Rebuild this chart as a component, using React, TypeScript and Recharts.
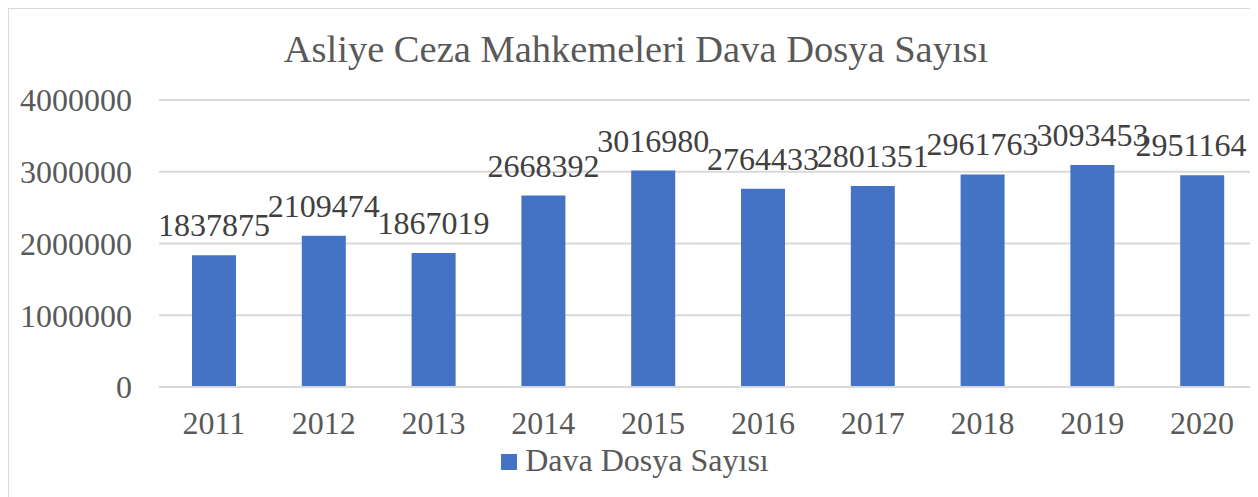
import React from 'react';
import { BarChart, Bar, XAxis, YAxis, CartesianGrid, Legend, LabelList } from 'recharts';

const years = ['2011', '2012', '2013', '2014', '2015', '2016', '2017', '2018', '2019', '2020'];
const caseCounts = [1837875, 2109474, 1867019, 2668392, 3016980, 2764433, 2801351, 2961763, 3093453, 2951164];
const yTicks = [0, 1000000, 2000000, 3000000, 4000000];

const chartData = years.map((year, i) => ({ year, count: caseCounts[i] }));

const serif = '"Liberation Serif", "Times New Roman", serif';
const gray = '#595959';
const barColor = '#4472c4';
const CHART_W = 1248;

// value label above each bar, kept inside the chart frame like Excel does
const ValueLabel = (props: any) => {
  const { x, y, width, value } = props;
  const half = String(value).length * 8;
  let cx = x + width / 2;
  if (cx + half > CHART_W - 10) cx = CHART_W - 10 - half;
  return (
    <text x={cx} y={y - 19} textAnchor="middle" fill="#404040" fontSize={32} fontFamily={serif}>
      {value}
    </text>
  );
};

const LegendBox = (props: any) => {
  const items = props.payload || [];
  return (
    <div style={{ display: 'flex', justifyContent: 'center', alignItems: 'center', height: 35 }}>
      {items.map((it: any) => (
        <div key={it.value} style={{ display: 'flex', alignItems: 'center', marginLeft: 4 }}>
          <span style={{ width: 16, height: 16, background: it.color, marginRight: 8, marginTop: 2 }} />
          <span style={{ color: gray, fontFamily: serif, fontSize: 32, lineHeight: '35px' }}>{it.value}</span>
        </div>
      ))}
    </div>
  );
};

const App: React.FC = () => {
  return (
    <div
      style={{
        position: 'relative',
        width: 1250,
        height: 490,
        border: '1px solid #d9d9d9',
        boxSizing: 'border-box',
        fontFamily: serif,
        background: '#fff',
      }}
    >
      <div
        style={{
          position: 'absolute',
          top: 16,
          left: 0,
          width: 1254,
          textAlign: 'center',
          fontSize: 38.5,
          color: gray,
          lineHeight: '48px',
        }}
      >
        Asliye Ceza Mahkemeleri Dava Dosya Sayısı
      </div>
      <BarChart
        width={CHART_W}
        height={488}
        data={chartData}
        margin={{ top: 91, right: 0, left: 0, bottom: 19 }}
      >
        <CartesianGrid vertical={false} stroke="#d9d9d9" strokeWidth={2} />
        <XAxis
          dataKey="year"
          axisLine={{ stroke: '#d9d9d9', strokeWidth: 2 }}
          tickLine={false}
          tickMargin={18}
          height={56}
          tick={{ fill: gray, fontSize: 32, fontFamily: serif }}
        />
        <YAxis
          domain={[0, 4000000]}
          ticks={yTicks}
          axisLine={false}
          tickLine={false}
          width={150}
          tickMargin={21}
          tick={{ fill: gray, fontSize: 32, fontFamily: serif }}
        />
        <Legend verticalAlign="bottom" height={35} content={<LegendBox />} />
        <Bar dataKey="count" name="Dava Dosya Sayısı" fill={barColor} barSize={44} isAnimationActive={false}>
          <LabelList dataKey="count" content={<ValueLabel />} />
        </Bar>
      </BarChart>
    </div>
  );
};

export default App;
